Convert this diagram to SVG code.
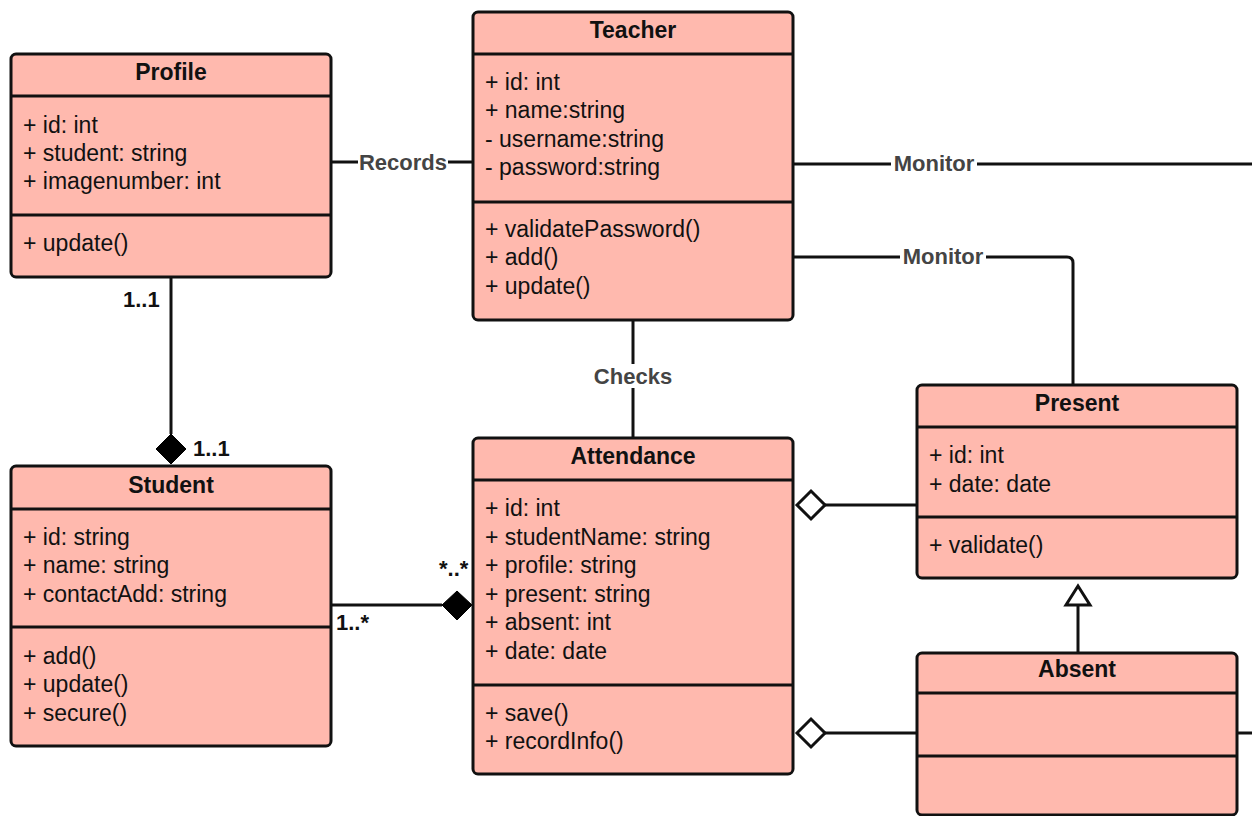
<svg xmlns="http://www.w3.org/2000/svg" width="1252" height="816" viewBox="0 0 1252 816">
<style>
.box{fill:#ffb9ae;stroke:#111;stroke-width:3}
.div{stroke:#111;stroke-width:3}
.t{font-family:"Liberation Sans",Arial,sans-serif;font-size:23px;fill:#111}
.h{font-family:"Liberation Sans",Arial,sans-serif;font-size:23px;font-weight:bold;fill:#111;text-anchor:middle}
.lbl{font-family:"Liberation Sans",Arial,sans-serif;font-size:22px;font-weight:bold;fill:#444;text-anchor:middle}
.m{font-family:"Liberation Sans",Arial,sans-serif;font-size:22px;font-weight:bold;fill:#111}
.ln{fill:none;stroke:#111;stroke-width:3}
.lbg{fill:#fff}
</style>
<rect width="1252" height="816" fill="#fff"/>
<g id="connectors">
  <line class="ln" x1="331" y1="162" x2="473" y2="162"/>
  <rect class="lbg" x="358" y="150" width="90" height="24"/>
  <text class="lbl" x="403" y="170">Records</text>
  <line class="ln" x1="793" y1="164" x2="1252" y2="164"/>
  <rect class="lbg" x="891" y="152" width="86" height="24"/>
  <text class="lbl" x="934" y="171">Monitor</text>
  <path class="ln" d="M793 257 H1067 Q1073 257 1073 263 V385"/>
  <rect class="lbg" x="900" y="245" width="86" height="24"/>
  <text class="lbl" x="943" y="264">Monitor</text>
  <line class="ln" x1="633" y1="320" x2="633" y2="438"/>
  <rect class="lbg" x="592" y="364" width="84" height="24"/>
  <text class="lbl" x="633" y="384">Checks</text>
  <line class="ln" x1="171" y1="277" x2="171" y2="434"/>
  <polygon points="171,434 186,449 171,464 156,449" fill="#000" stroke="#000" stroke-width="1"/>
  <text class="m" x="123" y="307">1..1</text>
  <text class="m" x="193" y="456">1..1</text>
  <line class="ln" x1="331" y1="605" x2="442" y2="605"/>
  <polygon points="442,605 457,591 472,605 457,620" fill="#000" stroke="#000" stroke-width="1"/>
  <text class="m" x="336" y="630">1..*</text>
  <text class="m" x="439" y="576">*..*</text>
  <line class="ln" x1="825" y1="505" x2="917" y2="505"/>
  <polygon points="797,505 811,491 825,505 811,519" fill="#fff" stroke="#111" stroke-width="3"/>
  <line class="ln" x1="825" y1="733" x2="917" y2="733"/>
  <polygon points="797,733 811,719 825,733 811,747" fill="#fff" stroke="#111" stroke-width="3"/>
  <line class="ln" x1="1237" y1="733" x2="1252" y2="733"/>
  <line class="ln" x1="1078" y1="605" x2="1078" y2="653"/>
  <polygon points="1078,586 1090,605 1066,605" fill="#fff" stroke="#111" stroke-width="3"/>
</g>
<g id="Profile">
  <rect class="box" x="11" y="54" width="320" height="223" rx="5"/>
  <line class="div" x1="11" y1="96" x2="331" y2="96"/>
  <line class="div" x1="11" y1="215" x2="331" y2="215"/>
  <text class="h" x="171" y="80">Profile</text>
  <text class="t" x="23" y="133">+ id: int</text>
  <text class="t" x="23" y="161">+ student: string</text>
  <text class="t" x="23" y="189">+ imagenumber: int</text>
  <text class="t" x="23" y="251">+ update()</text>
</g>
<g id="Teacher">
  <rect class="box" x="473" y="12" width="320" height="308" rx="5"/>
  <line class="div" x1="473" y1="54" x2="793" y2="54"/>
  <line class="div" x1="473" y1="202" x2="793" y2="202"/>
  <text class="h" x="633" y="38">Teacher</text>
  <text class="t" x="485" y="90">+ id: int</text>
  <text class="t" x="485" y="118">+ name:string</text>
  <text class="t" x="485" y="147">- username:string</text>
  <text class="t" x="485" y="175">- password:string</text>
  <text class="t" x="485" y="237">+ validatePassword()</text>
  <text class="t" x="485" y="265">+ add()</text>
  <text class="t" x="485" y="294">+ update()</text>
</g>
<g id="Student">
  <rect class="box" x="11" y="466" width="320" height="280" rx="5"/>
  <line class="div" x1="11" y1="509" x2="331" y2="509"/>
  <line class="div" x1="11" y1="627" x2="331" y2="627"/>
  <text class="h" x="171" y="493">Student</text>
  <text class="t" x="23" y="545">+ id: string</text>
  <text class="t" x="23" y="573">+ name: string</text>
  <text class="t" x="23" y="602">+ contactAdd: string</text>
  <text class="t" x="23" y="664">+ add()</text>
  <text class="t" x="23" y="692">+ update()</text>
  <text class="t" x="23" y="721">+ secure()</text>
</g>
<g id="Attendance">
  <rect class="box" x="473" y="438" width="320" height="336" rx="5"/>
  <line class="div" x1="473" y1="480" x2="793" y2="480"/>
  <line class="div" x1="473" y1="685" x2="793" y2="685"/>
  <text class="h" x="633" y="464">Attendance</text>
  <text class="t" x="485" y="516">+ id: int</text>
  <text class="t" x="485" y="545">+ studentName: string</text>
  <text class="t" x="485" y="573">+ profile: string</text>
  <text class="t" x="485" y="602">+ present: string</text>
  <text class="t" x="485" y="630">+ absent: int</text>
  <text class="t" x="485" y="659">+ date: date</text>
  <text class="t" x="485" y="721">+ save()</text>
  <text class="t" x="485" y="749">+ recordInfo()</text>
</g>
<g id="Present">
  <rect class="box" x="917" y="385" width="320" height="193" rx="5"/>
  <line class="div" x1="917" y1="427" x2="1237" y2="427"/>
  <line class="div" x1="917" y1="517" x2="1237" y2="517"/>
  <text class="h" x="1077" y="411">Present</text>
  <text class="t" x="929" y="463">+ id: int</text>
  <text class="t" x="929" y="492">+ date: date</text>
  <text class="t" x="929" y="553">+ validate()</text>
</g>
<g id="Absent">
  <rect class="box" x="917" y="653" width="320" height="162" rx="5"/>
  <line class="div" x1="917" y1="693" x2="1237" y2="693"/>
  <line class="div" x1="917" y1="756" x2="1237" y2="756"/>
  <text class="h" x="1077" y="677">Absent</text>
</g>
</svg>
